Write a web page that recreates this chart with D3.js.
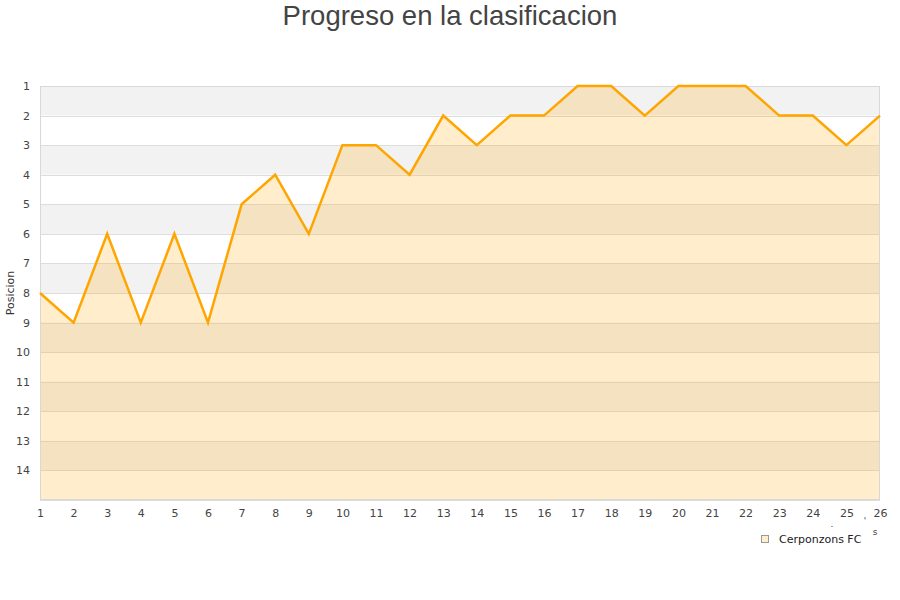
<!DOCTYPE html>
<html>
<head>
<meta charset="utf-8">
<script src="https://cdn.jsdelivr.net/npm/d3@7/dist/d3.min.js"></script>
<style>
  html, body { margin: 0; padding: 0; background: #fff; }
  svg { display: block; }
</style>
</head>
<body>
<div id="chart"></div>
<script>
const title = "Progreso en la clasificacion";
const yTitle = "Posicion";
const seriesName = "Cerponzons FC";
const jornadas = [1,2,3,4,5,6,7,8,9,10,11,12,13,14,15,16,17,18,19,20,21,22,23,24,25,26];
const posiciones = [8,9,6,9,6,9,5,4,6,3,3,4,2,3,2,2,1,1,2,1,1,1,2,2,3,2];
const yTicks = [1,2,3,4,5,6,7,8,9,10,11,12,13,14];
const yDomain = [1, 15];

const W = 900, H = 600;
const m = { left: 40, right: 20, top: 86, bottom: 100 };
const svg = d3.select("#chart").append("svg").attr("width", W).attr("height", H);

const x = d3.scaleLinear().domain([jornadas[0], jornadas[jornadas.length-1]]).range([m.left, W - m.right]);
const y = d3.scaleLinear().domain(yDomain).range([m.top, H - m.bottom]);

// alternating background bands
const bands = d3.range(yDomain[0], yDomain[1]);
svg.append("g").selectAll("rect").data(bands).join("rect")
  .attr("x", m.left).attr("width", W - m.right - m.left)
  .attr("y", d => y(d)).attr("height", d => y(d + 1) - y(d))
  .attr("fill", d => (d % 2 === 1) ? "#f2f2f2" : "#ffffff");

// grid lines
svg.append("g").selectAll("line").data(d3.range(yDomain[0], yDomain[1] + 1)).join("line")
  .attr("x1", m.left).attr("x2", W - m.right)
  .attr("y1", d => Math.round(y(d)) + 0.5).attr("y2", d => Math.round(y(d)) + 0.5)
  .attr("stroke", "#dddddd").attr("stroke-width", 1);

const data = jornadas.map((j, i) => ({ j, p: posiciones[i] }));

// area
svg.append("path").datum(data)
  .attr("d", d3.area().x(d => x(d.j)).y0(y(yDomain[1])).y1(d => y(d.p)))
  .attr("fill", "rgb(255,165,0)").attr("fill-opacity", 0.2);

// border
svg.append("rect")
  .attr("x", m.left + 0.5).attr("y", m.top + 0.5)
  .attr("width", W - m.right - m.left - 1).attr("height", y(yDomain[1]) - m.top - 1)
  .attr("fill", "none").attr("stroke", "#d8d8d8");

// line
svg.append("path").datum(data)
  .attr("d", d3.line().x(d => x(d.j)).y(d => y(d.p)))
  .attr("fill", "none").attr("stroke", "#ffa500").attr("stroke-width", 2.5)
  .attr("stroke-linejoin", "miter");

// y axis labels
const yAxis = d3.axisLeft(y).tickValues(yTicks).tickSize(0).tickPadding(10).tickFormat(d3.format("d"));
const gy = svg.append("g").attr("transform", `translate(${m.left},0)`).call(yAxis);
gy.select(".domain").remove();
gy.selectAll("text").attr("font-family", "DejaVu Sans").attr("font-size", 11).attr("fill", "#444");

// x axis labels
const xAxis = d3.axisBottom(x).tickValues(jornadas).tickSize(0).tickPadding(9).tickFormat(d3.format("d"));
const gx = svg.append("g").attr("transform", `translate(0,${y(yDomain[1])})`).call(xAxis);
gx.select(".domain").remove();
gx.selectAll("text").attr("font-family", "DejaVu Sans").attr("font-size", 11).attr("fill", "#444");

// y title
svg.append("text")
  .attr("transform", `translate(14,${(m.top + y(yDomain[1])) / 2}) rotate(-90)`)
  .attr("text-anchor", "middle")
  .attr("font-family", "DejaVu Sans").attr("font-size", 11).attr("fill", "#333")
  .text(yTitle);

// clipped x title remnant
svg.append("text").attr("x", 875).attr("y", 535).attr("text-anchor", "middle")
  .attr("font-family", "DejaVu Sans").attr("font-size", 9).attr("fill", "#444").text("s");
svg.append("text").attr("x", 832).attr("y", 527).attr("text-anchor", "middle")
  .attr("font-family", "DejaVu Sans").attr("font-size", 9).attr("fill", "#444").text(".");
svg.append("text").attr("x", 865).attr("y", 524).attr("text-anchor", "middle")
  .attr("font-family", "DejaVu Sans").attr("font-size", 9).attr("fill", "#444").text("'");

// title
svg.append("text")
  .attr("x", W / 2).attr("y", 25).attr("text-anchor", "middle")
  .attr("font-family", "Liberation Sans, Arial, sans-serif").attr("font-size", 27.5).attr("fill", "#444")
  .text(title);

// legend
const lg = svg.append("g").attr("transform", "translate(761,535)");
lg.append("rect").attr("x", 0.5).attr("y", 0.5).attr("width", 7).attr("height", 7)
  .attr("fill", "#ffeecc").attr("stroke", "#999").attr("stroke-width", 1);
lg.append("text").attr("x", 18).attr("y", 7.5)
  .attr("font-family", "DejaVu Sans").attr("font-size", 11).attr("fill", "#222")
  .text(seriesName);
</script>
</body>
</html>
